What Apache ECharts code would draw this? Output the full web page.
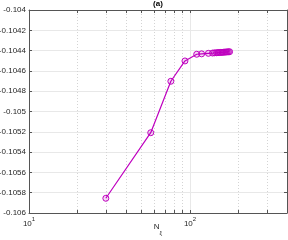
<!DOCTYPE html>
<html>
<head>
<meta charset="utf-8">
<script src="https://cdn.jsdelivr.net/npm/echarts@6/dist/echarts.min.js"></script>
<style>html,body{margin:0;padding:0;background:#fff}#c{width:288px;height:240px}</style>
</head>
<body>
<div id="c"></div>
<script>
var nXi = [30, 57, 76, 93, 110, 118, 130, 138, 142, 146, 149, 152, 155, 158, 161, 164, 167, 170, 173, 176];
var energy = [-0.105855, -0.105209, -0.104702, -0.104502, -0.104436, -0.104432, -0.104427, -0.104424, -0.104422, -0.104421, -0.104420, -0.104419, -0.104418, -0.104417, -0.104416, -0.104415, -0.104414, -0.104413, -0.104412, -0.104411];
var minorX = [20, 30, 40, 50, 60, 70, 80, 90, 200, 300];
var xRange = [10, 400];
var yRange = [-0.106, -0.104];
var yStep = 0.0002;
var titleText = '(a)';

var chart = echarts.init(document.getElementById('c'), null, {renderer: 'canvas'});
var font = 'Liberation Sans, Arial, Helvetica, sans-serif';
var axisColor = '#555555';
var tickLen = 0.00003;
function yFmt(v){ return String(parseFloat(v.toFixed(5))); }
function xFmt(v){
  var e = Math.log10(v);
  if (Math.abs(e - Math.round(e)) < 1e-9) return '{b|10}{s|' + Math.round(e) + '}';
  return '';
}
var data = nXi.map(function(x, i){ return [x, energy[i]]; });
var minorGrid = minorX.map(function(v){ return {xAxis: v}; });
var minorTicks = [];
minorX.forEach(function(v){
  minorTicks.push([{coord: [v, yRange[0]]}, {coord: [v, yRange[0] + tickLen]}]);
  minorTicks.push([{coord: [v, yRange[1]]}, {coord: [v, yRange[1] - tickLen]}]);
});
chart.setOption({
  animation: false,
  title: {text: titleText, left: 158, textAlign: 'center', top: 0, padding: 0,
    textStyle: {fontFamily: font, fontSize: 8, fontWeight: 'bold', color: '#000'}},
  grid: {left: 29, right: 1, top: 10, bottom: 27, containLabel: false, outerBoundsMode: 'none'},
  xAxis: [{
    type: 'log', logBase: 10, min: xRange[0], max: xRange[1], position: 'bottom',
    name: '{n|N}{u|ξ}', nameLocation: 'middle', nameGap: 10, nameMoveOverlap: false,
    nameTextStyle: {rich: {
      n: {fontFamily: font, fontSize: 8, color: '#262626', lineHeight: 10, verticalAlign: 'top'},
      u: {fontFamily: font, fontSize: 6, color: '#262626', lineHeight: 13, verticalAlign: 'bottom'}
    }},
    axisLine: {show: true, lineStyle: {color: axisColor, width: 1}},
    axisTick: {show: true, inside: true, length: 3, lineStyle: {color: axisColor}},
    axisLabel: {show: true, margin: 3, formatter: xFmt, showMaxLabel: false,
      rich: {
        b: {fontFamily: font, fontSize: 8, color: '#262626', padding: [4, 0, 0, 0], verticalAlign: 'bottom'},
        s: {fontFamily: font, fontSize: 6, color: '#262626', verticalAlign: 'top'}
      }},
    splitLine: {show: true, lineStyle: {color: '#e8e8e8', width: 1}}
  }, {
    type: 'log', logBase: 10, min: xRange[0], max: xRange[1], position: 'top',
    axisLine: {show: true, lineStyle: {color: axisColor, width: 1}},
    axisTick: {show: true, inside: true, length: 3, lineStyle: {color: axisColor}},
    axisLabel: {show: false}, splitLine: {show: false}
  }],
  yAxis: [{
    type: 'value', min: yRange[0], max: yRange[1], interval: yStep, position: 'left',
    axisLine: {show: true, lineStyle: {color: axisColor, width: 1}},
    axisTick: {show: true, inside: true, length: 3, lineStyle: {color: axisColor}},
    axisLabel: {formatter: yFmt, margin: 3, fontFamily: font, fontSize: 8, color: '#262626'},
    splitLine: {show: true, lineStyle: {color: '#e8e8e8', width: 1}}
  }, {
    type: 'value', min: yRange[0], max: yRange[1], interval: yStep, position: 'right',
    axisLine: {show: true, lineStyle: {color: axisColor, width: 1}},
    axisTick: {show: true, inside: true, length: 3, lineStyle: {color: axisColor}},
    axisLabel: {show: false}, splitLine: {show: false}
  }],
  series: [{
    type: 'line', xAxisIndex: 0, yAxisIndex: 0, data: data,
    symbol: 'circle', symbolSize: 6, showAllSymbol: true,
    lineStyle: {color: '#bf00bf', width: 1.2},
    itemStyle: {color: 'rgba(191,0,191,0.15)', borderColor: '#bf00bf', borderWidth: 1},
    z: 5,
    markLine: {silent: true, symbol: 'none', animation: false,
      label: {show: false},
      lineStyle: {color: '#d4d4d4', type: [1, 2], width: 1},
      data: minorGrid}
  }, {
    type: 'line', xAxisIndex: 0, yAxisIndex: 0, data: [],
    markLine: {silent: true, symbol: 'none', animation: false,
      label: {show: false},
      lineStyle: {color: axisColor, type: 'solid', width: 1},
      data: minorTicks}
  }]
});
</script>
</body>
</html>
